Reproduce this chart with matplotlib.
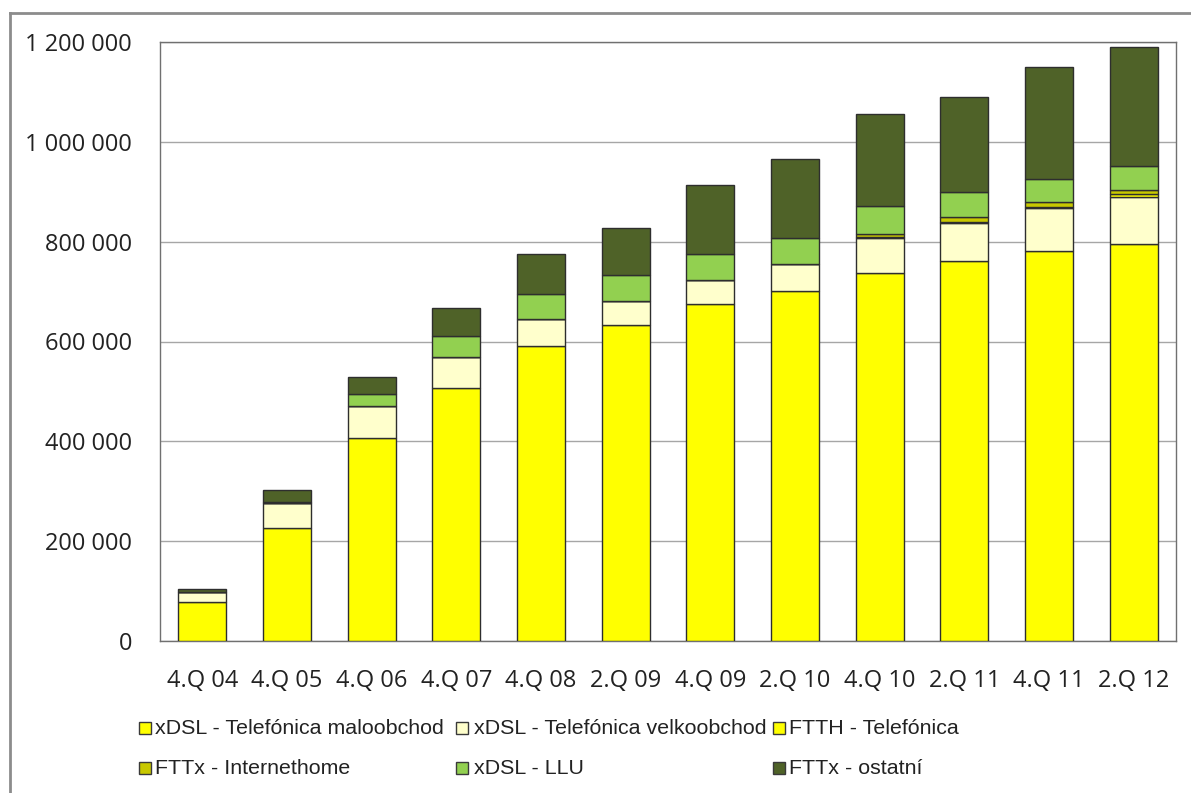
import matplotlib
matplotlib.use("Agg")
import matplotlib.pyplot as plt
from matplotlib.patches import Rectangle
from matplotlib.lines import Line2D
from matplotlib.ticker import FuncFormatter, MultipleLocator
import numpy as np

# Quarter labels
quarters = ["4.Q 04", "4.Q 05", "4.Q 06", "4.Q 07", "4.Q 08", "2.Q 09",
            "4.Q 09", "2.Q 10", "4.Q 10", "2.Q 11", "4.Q 11", "2.Q 12"]

# Connections per technology / provider
xdsl_retail = [79000, 226000, 406000, 507000, 591000, 633000,
               676000, 702000, 737000, 761000, 781000, 795000]
xdsl_wholesale = [20000, 50000, 64000, 62000, 54000, 49000,
                  48000, 54000, 70000, 77000, 87000, 94000]
ftth_telefonica = [0, 0, 0, 0, 0, 0,
                   0, 0, 1500, 1500, 2000, 6000]
fttx_internethome = [0, 0, 0, 0, 0, 0,
                     0, 0, 7000, 10000, 10000, 8000]
xdsl_llu = [0, 3000, 24000, 43000, 51000, 52000,
            52000, 52000, 55000, 49000, 46000, 48000]
fttx_other = [5000, 23000, 34000, 55000, 79000, 94000,
              138000, 158000, 185000, 192000, 224000, 239000]

series = [
    ("xDSL - Telefónica maloobchod", xdsl_retail, "#FFFF00"),
    ("xDSL - Telefónica velkoobchod", xdsl_wholesale, "#FFFFCC"),
    ("FTTH - Telefónica", ftth_telefonica, "#FFFF00"),
    ("FTTx - Internethome", fttx_internethome, "#C8C800"),
    ("xDSL - LLU", xdsl_llu, "#92D050"),
    ("FTTx - ostatní", fttx_other, "#4F6228"),
]

W, H = 1191, 793
fig = plt.figure(figsize=(W / 100, H / 100), dpi=100)
fig.patch.set_facecolor("white")

# Outer chart frame (top and left edges)
fig.add_artist(Line2D([10 / W, 1], [1 - 12.5 / H, 1 - 12.5 / H],
                      transform=fig.transFigure, color="#8c8c8c", lw=2))
fig.add_artist(Line2D([10 / W, 10 / W], [0, 1 - 12.5 / H],
                      transform=fig.transFigure, color="#8c8c8c", lw=2))

left, right, top, bottom = 160, 1176, 42, 641
ax = fig.add_axes([left / W, 1 - bottom / H, (right - left) / W, (bottom - top) / H])

x = np.arange(len(quarters))
base = np.zeros(len(quarters))
for name, vals, col in series:
    vals = np.array(vals, dtype=float)
    ax.bar(x, vals, bottom=base, width=0.57, color=col,
           edgecolor="#2e2e2e", linewidth=1.0, zorder=3)
    base += vals

ax.set_xlim(-0.5, len(quarters) - 0.5)
ax.set_ylim(0, 1200000)
ax.yaxis.set_major_locator(MultipleLocator(200000))
ax.yaxis.set_major_formatter(FuncFormatter(lambda v, p: f"{int(v):,}".replace(",", " ")))
ax.grid(axis="y", color="#a6a6a6", linewidth=1.0, zorder=0)
ax.set_xticks(x)
ax.set_xticklabels(quarters)
ax.tick_params(axis="both", length=0, labelsize=17, colors="#222222")
ax.tick_params(axis="y", pad=20)
ax.tick_params(axis="x", pad=20)
for lbl in ax.get_xticklabels() + ax.get_yticklabels():
    lbl.set_fontfamily("Open Sans")
for sp in ax.spines.values():
    sp.set_color("#707070")
    sp.set_linewidth(1.0)

# Legend laid out in two rows of three
leg_cols = [(139, 155), (456, 474), (773, 789)]
leg_rows = [728, 768]
for i, (name, vals, col) in enumerate(series):
    r, c = divmod(i, 3)
    mx, tx = leg_cols[c]
    cy = leg_rows[r]
    sz = 12
    fig.add_artist(Rectangle((mx / W, 1 - (cy + sz / 2) / H), sz / W, sz / H,
                             transform=fig.transFigure, facecolor=col,
                             edgecolor="#3a3a3a", linewidth=1.0))
    fig.text(tx / W, 1 - cy / H, name, fontsize=15.4, family="Liberation Sans",
             color="#222222", va="center", ha="left")

fig.savefig("out.png", dpi=100)
